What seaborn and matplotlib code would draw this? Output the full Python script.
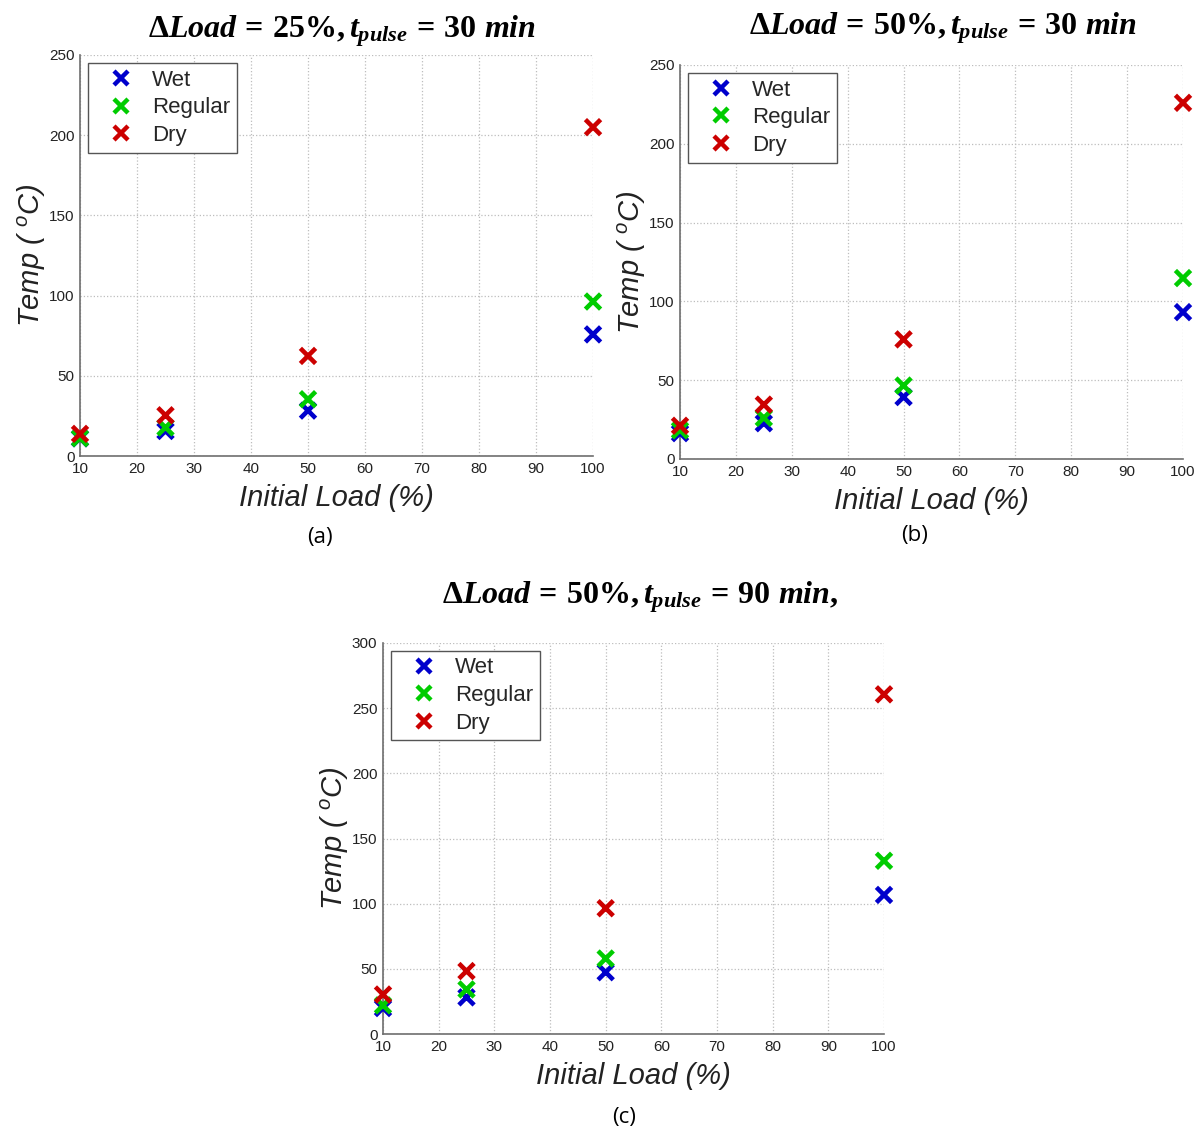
import matplotlib
matplotlib.use("Agg")
import matplotlib.pyplot as plt
import seaborn as sns
import pandas as pd

# ---------------- data ----------------
loads = [10, 25, 50, 100]
conditions = ["Wet", "Regular", "Dry"]

a_wet = [11, 15.6, 28.3, 75.8]
a_regular = [11.1, 17.8, 35.4, 96.3]
a_dry = [13.8, 25.4, 62.4, 205]

b_wet = [16.4, 22.7, 39.3, 93.2]
b_regular = [18.2, 26.1, 46.6, 114.8]
b_dry = [21.1, 34.5, 75.9, 226]

c_wet = [19.9, 28.1, 47.4, 106.7]
c_regular = [22, 34.2, 57.9, 132.9]
c_dry = [30.3, 48.3, 96.5, 260.6]

titles = [r"$\Delta Load\,=\,25\%, t_{pulse}\,=\,30\ min$",
          r"$\Delta Load\,=\,50\%, t_{pulse}\,=\,30\ min$",
          r"$\Delta Load\,=\,50\%, t_{pulse}\,=\,90\ min,$"]
panel_labels = ["(a)", "(b)", "(c)"]
y_maxes = [250, 250, 300]
x_ticks = [10, 20, 30, 40, 50, 60, 70, 80, 90, 100]

colors = {"Wet": "#0000CC", "Regular": "#00CC00", "Dry": "#CC0000"}

# ---------------- style ----------------
sns.set_theme(style="white")
plt.rcParams["font.family"] = ["Liberation Sans", "DejaVu Sans"]
plt.rcParams["mathtext.fontset"] = "custom"
plt.rcParams["mathtext.rm"] = "Liberation Serif:bold"
plt.rcParams["mathtext.it"] = "Liberation Serif:bold:italic"
plt.rcParams["mathtext.bf"] = "Liberation Serif:bold"
plt.rcParams["mathtext.sf"] = "Liberation Sans:italic"


def make_df(wet, reg, dry):
    rows = []
    for name, vals in zip(conditions, [wet, reg, dry]):
        for x, v in zip(loads, vals):
            rows.append({"load": x, "temp": v, "cond": name})
    return pd.DataFrame(rows)


dfs = [make_df(a_wet, a_regular, a_dry),
       make_df(b_wet, b_regular, b_dry),
       make_df(c_wet, c_regular, c_dry)]

W, H = 1203, 1133
fig = plt.figure(figsize=(W / 100, H / 100), dpi=100)

# axes boxes in pixels: left, top, right, bottom
boxes = [(80, 55, 593, 456), (680, 65, 1183, 459), (383, 643, 884, 1034)]
title_pos = [(342, 31), (943, 28), (640, 597)]
label_pos = [(320, 538), (915, 535), (624, 1117)]

for i in range(3):
    l, t, r, b = boxes[i]
    ax = fig.add_axes([l / W, 1 - b / H, (r - l) / W, (b - t) / H])
    sns.scatterplot(data=dfs[i], x="load", y="temp", hue="cond",
                    hue_order=conditions, palette=colors, marker="x",
                    s=120, linewidth=3.3, ax=ax, legend=True, zorder=3,
                    clip_on=False)
    ax.set_xlim(10, 100)
    ax.set_ylim(0, y_maxes[i])
    ax.set_xticks(x_ticks)
    ax.set_yticks(list(range(0, y_maxes[i] + 1, 50)))
    ax.grid(True, linestyle=":", color="#bdbdbd", linewidth=0.9)
    for side in ["top", "right"]:
        ax.spines[side].set_visible(False)
    for side in ["left", "bottom"]:
        ax.spines[side].set_color("#6e6e6e")
        ax.spines[side].set_linewidth(1.2)
    ax.tick_params(axis="both", length=0, labelsize=11, colors="#222222", pad=4)
    ax.set_xlabel("Initial Load (%)", fontsize=21, style="italic",
                  color="#222222", labelpad=6)
    ax.set_ylabel(r"Temp ( $\mathsf{{}^{o}C}$)", fontsize=21, style="italic",
                  color="#222222", labelpad=1)

    handles, labs = ax.get_legend_handles_labels()
    leg = ax.legend(handles, labs, loc="upper left", fontsize=16,
                    frameon=True, fancybox=False, edgecolor="#555555",
                    framealpha=1, handlelength=2.4, handletextpad=0.2,
                    borderpad=0.3, labelspacing=0.3,
                    bbox_to_anchor=(0.015, 0.98), borderaxespad=0.0)
    leg.get_frame().set_linewidth(1.0)
    for h in leg.legend_handles:
        try:
            h.set_markeredgewidth(3.2)
            h.set_markersize(10.5)
        except Exception:
            pass

    fig.text(title_pos[i][0] / W, 1 - title_pos[i][1] / H, titles[i],
             fontsize=23, ha="center", va="center", color="black")
    fig.text(label_pos[i][0] / W, 1 - label_pos[i][1] / H, panel_labels[i],
             fontsize=16, ha="center", va="center", color="black",
             family=["Open Sans", "DejaVu Sans"])

fig.savefig("out.png", dpi=100)
